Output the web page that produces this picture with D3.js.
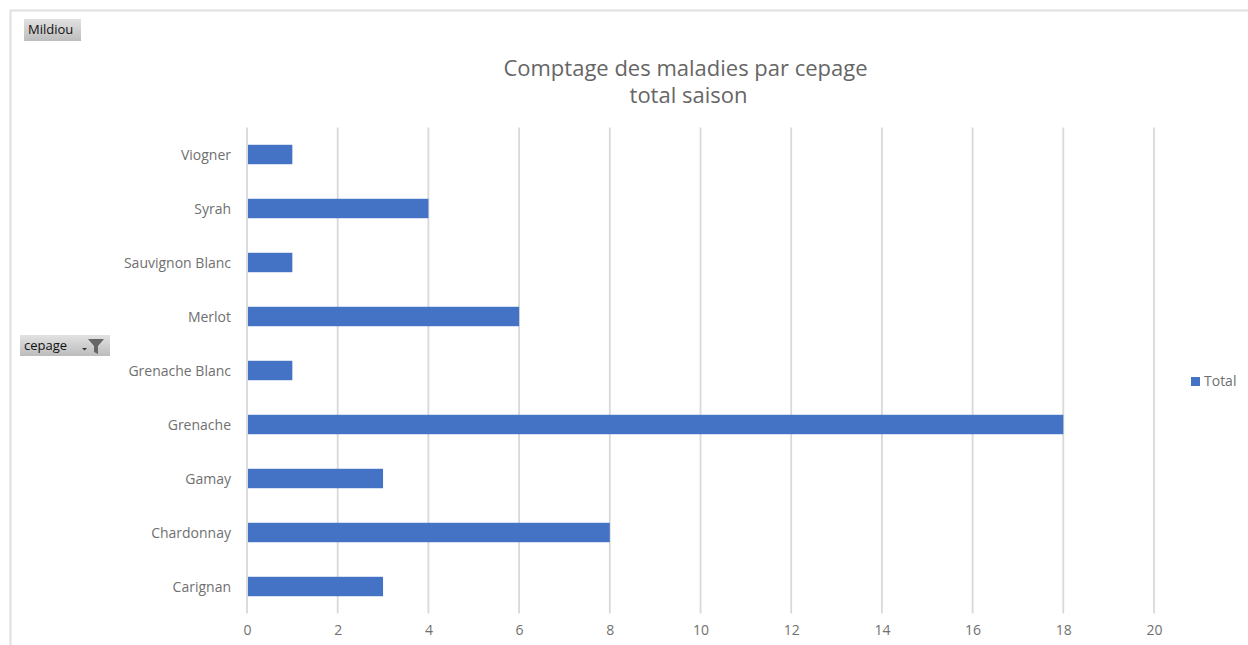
<!DOCTYPE html>
<html>
<head>
<meta charset="utf-8">
<script src="https://cdn.jsdelivr.net/npm/d3@7"></script>
<style>
html, body { margin: 0; padding: 0; background: #fff; overflow: hidden; }
text { font-family: "Open Sans", sans-serif; }
</style>
</head>
<body>
<div id="chart"></div>
<script>
// values, listed bottom to top
var categories = ["Carignan", "Chardonnay", "Gamay", "Grenache", "Grenache Blanc", "Merlot", "Sauvignon Blanc", "Syrah", "Viogner"];
var totals = [3, 8, 3, 18, 1, 6, 1, 4, 1];
var xTicks = [0, 2, 4, 6, 8, 10, 12, 14, 16, 18, 20];
var titleLines = ["Comptage des maladies par cepage", "total saison"];
var seriesName = "Total";
var filterLabel = "Mildiou";
var axisButtonLabel = "cepage";

var svgWidth = 1248;
var svgHeight = 645;

var margin = { top: 127.5, right: 94, bottom: 31.5, left: 247 };
var width = svgWidth - margin.left - margin.right;
var height = svgHeight - margin.top - margin.bottom;

var svg = d3.select("#chart").append("svg")
    .attr("width", svgWidth)
    .attr("height", svgHeight)
    .style("display", "block");

// button gradient
var grad = svg.append("defs").append("linearGradient")
    .attr("id", "btn").attr("x1", 0).attr("y1", 0).attr("x2", 0).attr("y2", 1);
grad.append("stop").attr("offset", "0%").attr("stop-color", "#e2e2e2");
grad.append("stop").attr("offset", "100%").attr("stop-color", "#bcbcbc");

// chart area frame (left and top only, the rest is cropped)
svg.append("path")
    .attr("d", "M10.5,645V10.5H1248")
    .attr("fill", "none")
    .attr("stroke", "#e0e0e0")
    .attr("stroke-width", 2);

var chartGroup = svg.append("g")
    .attr("transform", `translate(${margin.left}, ${margin.top})`);

var xScale = d3.scaleLinear().domain([0, 20]).range([0, width]);
var yScale = d3.scaleBand().domain(categories).range([height, 0]).paddingInner(0.64).paddingOuter(0.32);

// gridlines
chartGroup.append("g")
    .selectAll("line")
    .data(xTicks)
    .enter()
    .append("line")
    .attr("x1", d => xScale(d))
    .attr("x2", d => xScale(d))
    .attr("y1", 0)
    .attr("y2", height)
    .attr("stroke", "#d9d9d9")
    .attr("stroke-width", 1.8);

// bars
chartGroup.append("g")
    .selectAll("rect")
    .data(totals)
    .enter()
    .append("rect")
    .attr("x", 1)
    .attr("y", (d, i) => yScale(categories[i]))
    .attr("width", d => xScale(d) - 1)
    .attr("height", yScale.bandwidth())
    .attr("fill", "#4472c4");

// x axis
var bottomAxis = d3.axisBottom(xScale).tickValues(xTicks).tickSize(0).tickPadding(12);
var xAxis = chartGroup.append("g")
    .attr("transform", `translate(0, ${height})`)
    .call(bottomAxis);
xAxis.select(".domain").remove();
xAxis.selectAll("text").attr("font-size", 14).attr("fill", "#707070").style("font-family", '"Open Sans", sans-serif');

// y axis
var leftAxis = d3.axisLeft(yScale).tickSize(0).tickPadding(16);
var yAxis = chartGroup.append("g").call(leftAxis);
yAxis.select(".domain").remove();
yAxis.selectAll("text")
    .attr("font-size", 14)
    .attr("dy", "0.39em")
    .attr("fill", "#707070")
    .style("font-family", '"Open Sans", sans-serif');

// title
svg.append("g")
    .selectAll("text")
    .data(titleLines)
    .enter()
    .append("text")
    .attr("x", (d, i) => 685.5 + i * 3)
    .attr("y", (d, i) => 76 + i * 27)
    .attr("text-anchor", "middle")
    .attr("font-size", 22)
    .attr("fill", "#666")
    .text(d => d);

// legend
svg.append("rect").attr("x", 1191).attr("y", 377).attr("width", 9).attr("height", 9).attr("fill", "#4472c4");
svg.append("text").attr("x", 1204).attr("y", 386).attr("font-size", 14).attr("fill", "#707070").text(seriesName);

// pivot field buttons
svg.append("rect").attr("x", 24).attr("y", 19).attr("width", 57).attr("height", 22).attr("fill", "url(#btn)");
svg.append("text").attr("x", 28).attr("y", 34).attr("font-size", 13).attr("fill", "#111").text(filterLabel);

svg.append("rect").attr("x", 20).attr("y", 335).attr("width", 90).attr("height", 21).attr("fill", "url(#btn)");
svg.append("text").attr("x", 24).attr("y", 350).attr("font-size", 13).attr("fill", "#111").text(axisButtonLabel);
svg.append("path").attr("d", "M82,348h5l-2.5,2.5z").attr("fill", "#333");
svg.append("path").attr("d", "M88,339h16l-6,7v8l-4,-2v-6z").attr("fill", "#666");
</script>
</body>
</html>
